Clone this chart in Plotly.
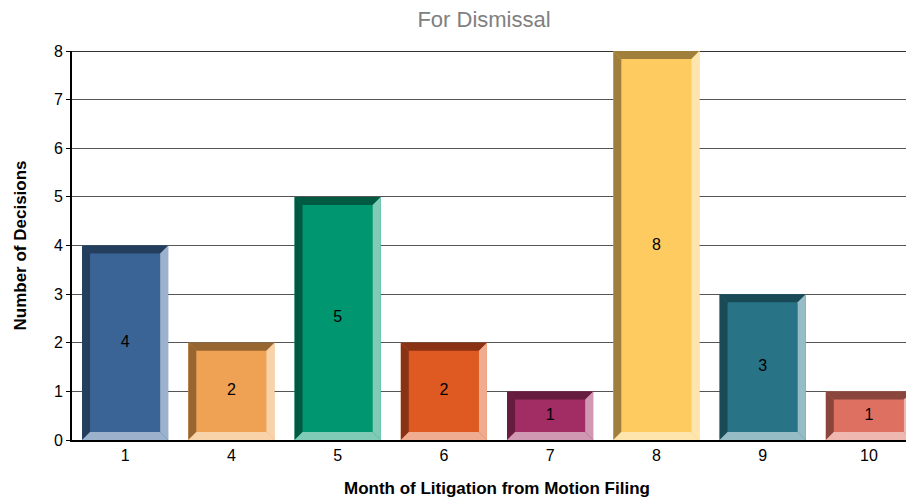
import plotly.graph_objects as go

# data
months = ["1", "4", "5", "6", "7", "8", "9", "10"]
decisions = [4, 2, 5, 2, 1, 8, 3, 1]

face_colors = ["#3A6496", "#EFA253", "#00966F", "#DE5A22", "#A12D64", "#FDCB60", "#287486", "#DE7062"]
dark_colors = ["#243E5E", "#966530", "#005A42", "#8A3314", "#651C3E", "#A07E3C", "#1A4A56", "#8A463C"]
light_colors = ["#9BB1CC", "#F8D2A8", "#7FCBB6", "#F0AC90", "#D098B2", "#FEE5AE", "#96BCC6", "#EEB8B0"]

FONT = "Arial, Liberation Sans, sans-serif"
BAR_W = 0.81
DX = 0.075   # bevel width in category units (~8px)
DY = 0.165   # bevel height in y units (~8px)

# the page body has an 8px margin; the plot runs slightly past the window's right edge
W, H = 914, 493

xs = list(range(len(months)))

fig = go.Figure()
fig.add_trace(go.Bar(
    x=xs,
    y=decisions,
    width=BAR_W,
    marker=dict(color=face_colors, line=dict(width=0)),
    hoverinfo="skip",
))
# value labels centred in each bar
fig.add_trace(go.Scatter(
    x=xs,
    y=[v / 2 for v in decisions],
    mode="text",
    text=[str(v) for v in decisions],
    textposition="middle center",
    textfont=dict(color="black", size=16, family=FONT),
    hoverinfo="skip",
))


def poly(pts):
    return "M " + " L ".join(f"{x},{y}" for x, y in pts) + " Z"


# bevel edges around each bar
for c, v, dk, lt in zip(xs, decisions, dark_colors, light_colors):
    h = BAR_W / 2
    l, r = c - h, c + h
    edges = [
        ([(l, 0), (l, v), (l + DX, v - DY), (l + DX, DY)], dk),
        ([(l, v), (r, v), (r - DX, v - DY), (l + DX, v - DY)], dk),
        ([(r, v), (r, 0), (r - DX, DY), (r - DX, v - DY)], lt),
        ([(l, 0), (r, 0), (r - DX, DY), (l + DX, DY)], lt),
    ]
    for pts, col in edges:
        fig.add_shape(type="path", xref="x", yref="y", path=poly(pts),
                      fillcolor=col, line=dict(width=0), layer="above")

fig.update_layout(
    width=W,
    height=H,
    title=dict(text="For Dismissal", x=476 / W, xanchor="center", y=1 - 11 / H, yanchor="middle",
               yref="container", automargin=False,
               font=dict(size=22, color="#808080", family=FONT)),
    plot_bgcolor="white",
    paper_bgcolor="white",
    font=dict(family=FONT, size=16, color="black"),
    margin=dict(t=43, b=61, l=64, r=0),
    showlegend=False,
)
fig.update_xaxes(
    tickmode="array",
    tickvals=xs,
    ticktext=months,
    range=[-0.5, len(months) - 0.5],
    showgrid=False,
    showline=True,
    linecolor="black",
    linewidth=2,
    ticks="",
    automargin=False,
    zeroline=False,
)
fig.update_yaxes(
    range=[0, 8],
    dtick=1,
    showgrid=True,
    gridcolor="#555555",
    gridwidth=1,
    showline=True,
    linecolor="black",
    linewidth=2,
    ticks="outside",
    ticklen=4,
    tickcolor="black",
    automargin=False,
    zeroline=False,
)
# axis titles
fig.add_annotation(text="<b>Number of Decisions</b>", xref="paper", yref="paper",
                   x=0, y=0.5, xshift=-52, xanchor="center", yanchor="middle",
                   textangle=-90, showarrow=False, font=dict(size=17, family=FONT))
fig.add_annotation(text="<b>Month of Litigation from Motion Filing</b>", xref="paper", yref="paper",
                   x=0.5, y=0, yshift=-48, xanchor="center", yanchor="middle",
                   showarrow=False, font=dict(size=17, family=FONT))
# top border line at 8
fig.add_shape(type="line", xref="paper", yref="y", x0=0, x1=1, y0=8, y1=8,
              line=dict(color="#333333", width=2), layer="below")

fig.write_html("out.html")
